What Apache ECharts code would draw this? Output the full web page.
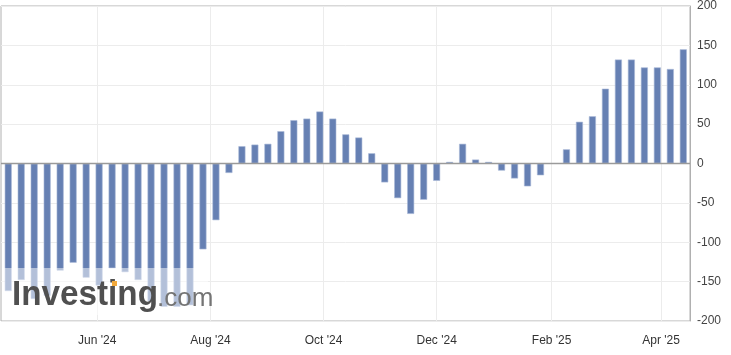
<!DOCTYPE html>
<html><head><meta charset="utf-8">
<script src="https://cdn.jsdelivr.net/npm/echarts@6/dist/echarts.min.js"></script>
<style>html,body{margin:0;padding:0;background:#fff}#c{width:731px;height:355px}</style>
</head><body><div id="c"></div>
<script>
const weeks = ['2024-04-14','2024-04-21','2024-04-28','2024-05-05','2024-05-12','2024-05-19','2024-05-26',
'2024-06-02','2024-06-09','2024-06-16','2024-06-23','2024-06-30','2024-07-07','2024-07-14','2024-07-21',
'2024-07-28','2024-08-04','2024-08-11','2024-08-18','2024-08-25','2024-09-01','2024-09-08','2024-09-15',
'2024-09-22','2024-09-29','2024-10-06','2024-10-13','2024-10-20','2024-10-27','2024-11-03','2024-11-10',
'2024-11-17','2024-11-24','2024-12-01','2024-12-08','2024-12-15','2024-12-22','2024-12-29','2025-01-05',
'2025-01-12','2025-01-19','2025-01-26','2025-02-02','2025-02-09','2025-02-16','2025-02-23','2025-03-02',
'2025-03-09','2025-03-16','2025-03-23','2025-03-30','2025-04-06','2025-04-13'];
const values = [-162,-148,-172,-168,-136,-126,-145,-155,-133,-138,-148,-175,-182,-182,-180,
-109,-72,-12,22,24,25,41,55,57,66,57,37,33,13,-24,-44,-64,-46,-22,2,25,5,2,-9,-19,-29,-15,null,
18,53,60,95,132,132,122,122,120,145];
const tickDates = ['2024-06-01','2024-08-01','2024-10-01','2024-12-01','2025-02-01','2025-04-01'];

const MON = ['Jan','Feb','Mar','Apr','May','Jun','Jul','Aug','Sep','Oct','Nov','Dec'];
const toTs = s => { const p = s.split('-').map(Number); return Date.UTC(p[0], p[1]-1, p[2]); };
const DAY = 86400000;
const tickTs = tickDates.map(toTs);
const data = weeks.map((w,i) => [toTs(w), values[i]]);
const xMin = toTs(weeks[0]) - 3.9*DAY;
const xMax = toTs(weeks[weeks.length-1]) + 3.6*DAY;

const chart = echarts.init(document.getElementById('c'), null, {renderer:'canvas'});
chart.setOption({
  animation:false,
  backgroundColor:'#fff',
  grid:{left:1, right:41, top:6, bottom:34, show:true, borderColor:'#b0b0b0', borderWidth:1, containLabel:false},
  xAxis:{
    type:'value', min:xMin, max:xMax, scale:true,
    axisLine:{show:false},
    axisTick:{show:false, customValues:tickTs},
    axisLabel:{customValues:tickTs, color:'#333', fontSize:12, fontFamily:'Liberation Sans, Arial', margin:14,
      showMinLabel:true, showMaxLabel:true,
      formatter:v=>{const d=new Date(v);return MON[d.getUTCMonth()]+" '"+String(d.getUTCFullYear()).slice(2);}},
    splitLine:{show:true, lineStyle:{color:'#ececec', width:1}}
  },
  yAxis:{
    type:'value', position:'right', min:-200, max:200, interval:50,
    axisLine:{show:true, lineStyle:{color:'#b0b0b0'}},
    axisTick:{show:false},
    axisLabel:{color:'#444', fontSize:12, fontFamily:'Liberation Sans, Arial', margin:7},
    splitLine:{show:true, lineStyle:{color:'#ececec', width:1}}
  },
  series:[{
    type:'bar', data:data, barWidth:7,
    itemStyle:{color:'#6680b3', borderColor:'#a9b8d6', borderWidth:0.6},
    markLine:{silent:true, symbol:'none', label:{show:false},
      lineStyle:{color:'#9a9a9a', width:1.3, type:'solid'}, data:[{yAxis:0}]}
  }],
  graphic:[
    {type:'rect', z:100, shape:{x:2, y:268, width:206, height:47}, style:{fill:'rgba(255,255,255,0.5)'}},
    {type:'text', z:101, x:12, y:278, scaleX:0.95, style:{text:'Investing', font:'bold 35px "Liberation Sans", Arial', fill:'#505050'}},
    {type:'text', z:101, x:157, y:286, style:{text:'.com', font:'26px "Liberation Sans", Arial', fill:'#747474'}},
    {type:'rect', z:102, shape:{x:112, y:281, width:5, height:5}, style:{fill:'#f2a93b'}}
  ]
});
</script></body></html>
